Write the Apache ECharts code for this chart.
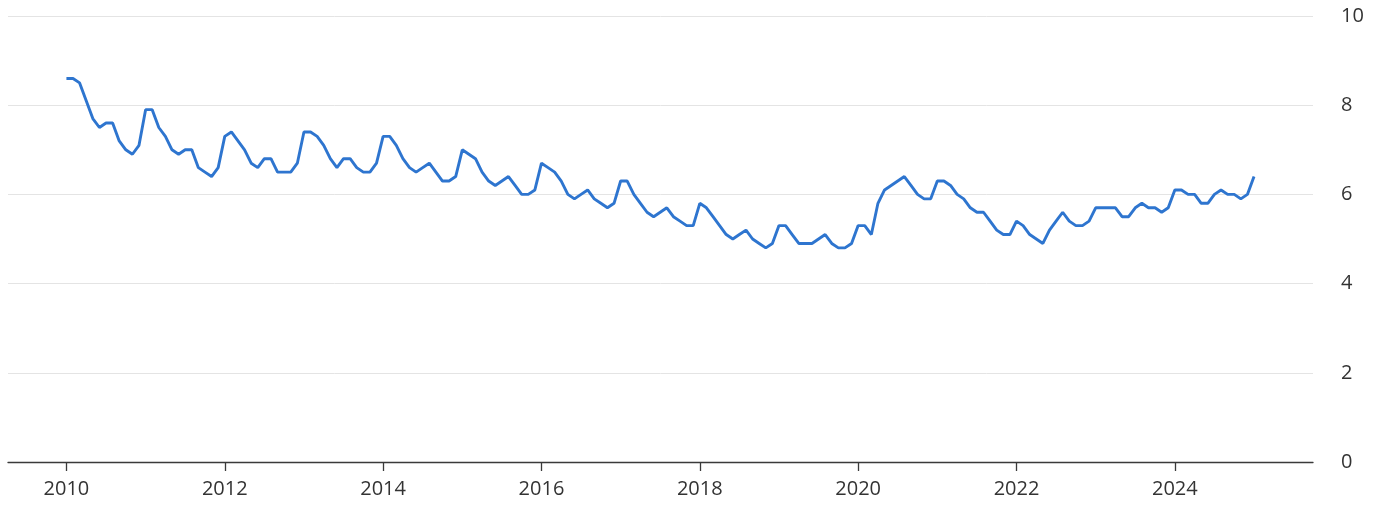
<!DOCTYPE html>
<html>
<head>
<meta charset="utf-8">
<script src="https://cdn.jsdelivr.net/npm/echarts@6/dist/echarts.min.js"></script>
<style>
  html, body { margin: 0; padding: 0; background: #ffffff; }
  #chart { width: 1384px; height: 505px; }
</style>
</head>
<body>
<div id="chart"></div>
<script>
// Monthly values, starting January 2010
const startYear = 2010;
const values2010 = [8.6, 8.6, 8.5, 8.1, 7.7, 7.5, 7.6, 7.6, 7.2, 7.0, 6.9, 7.1];
const values2011 = [7.9, 7.9, 7.5, 7.3, 7.0, 6.9, 7.0, 7.0, 6.6, 6.5, 6.4, 6.6];
const values2012 = [7.3, 7.4, 7.2, 7.0, 6.7, 6.6, 6.8, 6.8, 6.5, 6.5, 6.5, 6.7];
const values2013 = [7.4, 7.4, 7.3, 7.1, 6.8, 6.6, 6.8, 6.8, 6.6, 6.5, 6.5, 6.7];
const values2014 = [7.3, 7.3, 7.1, 6.8, 6.6, 6.5, 6.6, 6.7, 6.5, 6.3, 6.3, 6.4];
const values2015 = [7.0, 6.9, 6.8, 6.5, 6.3, 6.2, 6.3, 6.4, 6.2, 6.0, 6.0, 6.1];
const values2016 = [6.7, 6.6, 6.5, 6.3, 6.0, 5.9, 6.0, 6.1, 5.9, 5.8, 5.7, 5.8];
const values2017 = [6.3, 6.3, 6.0, 5.8, 5.6, 5.5, 5.6, 5.7, 5.5, 5.4, 5.3, 5.3];
const values2018 = [5.8, 5.7, 5.5, 5.3, 5.1, 5.0, 5.1, 5.2, 5.0, 4.9, 4.8, 4.9];
const values2019 = [5.3, 5.3, 5.1, 4.9, 4.9, 4.9, 5.0, 5.1, 4.9, 4.8, 4.8, 4.9];
const values2020 = [5.3, 5.3, 5.1, 5.8, 6.1, 6.2, 6.3, 6.4, 6.2, 6.0, 5.9, 5.9];
const values2021 = [6.3, 6.3, 6.2, 6.0, 5.9, 5.7, 5.6, 5.6, 5.4, 5.2, 5.1, 5.1];
const values2022 = [5.4, 5.3, 5.1, 5.0, 4.9, 5.2, 5.4, 5.6, 5.4, 5.3, 5.3, 5.4];
const values2023 = [5.7, 5.7, 5.7, 5.7, 5.5, 5.5, 5.7, 5.8, 5.7, 5.7, 5.6, 5.7];
const values2024 = [6.1, 6.1, 6.0, 6.0, 5.8, 5.8, 6.0, 6.1, 6.0, 6.0, 5.9, 6.0];
const values2025 = [6.4];

const xTickYears = [2010, 2012, 2014, 2016, 2018, 2020, 2022, 2024];
const yTicks = [0, 2, 4, 6, 8, 10];

const allValues = [].concat(values2010, values2011, values2012, values2013, values2014,
  values2015, values2016, values2017, values2018, values2019, values2020,
  values2021, values2022, values2023, values2024, values2025);
const seriesData = allValues.map((v, i) => [startYear + i / 12, v]);

const chart = echarts.init(document.getElementById('chart'), null, { renderer: 'canvas' });
const labelFont = 'Open Sans, Noto Sans, sans-serif';
chart.setOption({
  animation: false,
  backgroundColor: '#ffffff',
  grid: { left: 8, right: 71, top: 16, bottom: 43, containLabel: false },
  xAxis: {
    type: 'value',
    min: 2009.262,
    max: 2025.745,
    axisLine: { show: true, lineStyle: { color: '#3a3a3a', width: 1.3 } },
    axisTick: { show: true, length: 9, customValues: xTickYears, lineStyle: { color: '#3a3a3a', width: 1.3 } },
    axisLabel: {
      customValues: xTickYears,
      color: '#333333',
      fontSize: 20,
      fontFamily: labelFont,
      margin: 17,
      formatter: v => String(Math.round(v))
    },
    splitLine: { show: false }
  },
  yAxis: {
    type: 'value',
    position: 'right',
    min: 0,
    max: 10,
    interval: 2,
    axisLine: { show: false },
    axisTick: { show: false },
    axisLabel: {
      color: '#333333',
      fontSize: 20,
      fontFamily: labelFont,
      margin: 28,
      align: 'left',
      customValues: yTicks
    },
    splitLine: { show: true, lineStyle: { color: '#e4e4e4', width: 1 } }
  },
  series: [{
    type: 'line',
    data: seriesData,
    showSymbol: false,
    symbol: 'none',
    smooth: false,
    lineStyle: { color: '#2e75cf', width: 2.9 },
    itemStyle: { color: '#2e75cf' }
  }]
});
</script>
</body>
</html>
